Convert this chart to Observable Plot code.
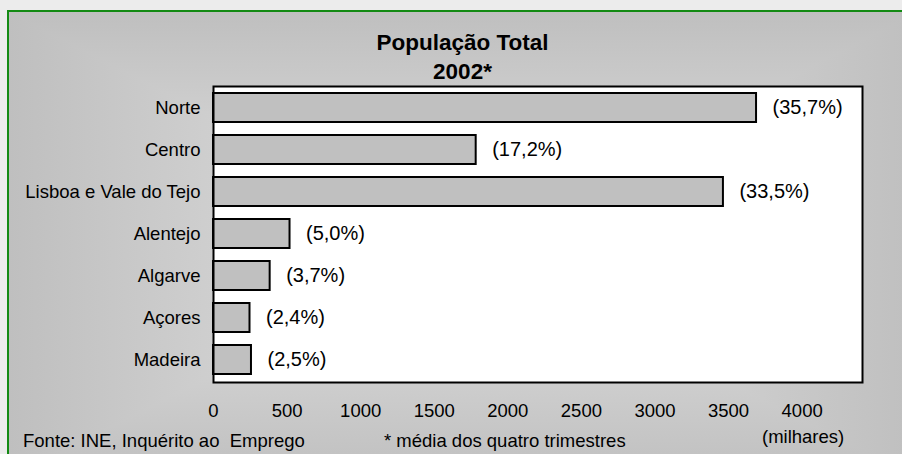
<!DOCTYPE html>
<html><head><meta charset="utf-8">
<script src="https://cdn.jsdelivr.net/npm/d3@7"></script>
<script src="https://cdn.jsdelivr.net/npm/@observablehq/plot@0.6"></script>
<style>
html,body{margin:0;padding:0;background:#ececec;}
#wrap{position:relative;width:902px;height:454px;overflow:hidden;font-family:"Liberation Sans",Arial,sans-serif;}
#panel{position:absolute;left:7px;top:10px;width:911px;height:470px;border-top:2px solid #138a13;border-left:2px solid #138a13;box-sizing:border-box;
background:linear-gradient(to right,#bfbfbf 0%,#e2e2e2 50%,#bfbfbf 100%),linear-gradient(to bottom,#bfbfbf 0%,#e2e2e2 50%,#bfbfbf 100%);background-blend-mode:darken;}
#chart{position:absolute;left:0;top:0;}
.t{position:absolute;white-space:pre;color:#000;line-height:18px;font-size:18.5px;}
.title{position:absolute;left:262px;width:401px;text-align:center;font-weight:bold;font-size:22.5px;line-height:29px;color:#000;}
</style></head>
<body>
<div id="wrap">
  <div id="panel"></div>
  <div id="chart"></div>
  <div class="title" id="title" style="top:28px"></div>
  <div class="t" id="src" style="left:23px;top:432px"></div>
  <div class="t" id="note" style="left:384px;top:432px"></div>
  <div class="t" id="unit" style="left:762px;top:428px"></div>
</div>
<script>
const titleLines = ["População Total", "2002*"];
const sourceText = "Fonte: INE, Inquérito ao  Emprego";
const noteText = "* média dos quatro trimestres";
const unitText = "(milhares)";
const regions = ["Norte", "Centro", "Lisboa e Vale do Tejo", "Alentejo", "Algarve", "Açores", "Madeira"];
const population = [3690, 1785, 3465, 520, 385, 248, 258];
const shares = ["(35,7%)", "(17,2%)", "(33,5%)", "(5,0%)", "(3,7%)", "(2,4%)", "(2,5%)"];
const xTicks = [0, 500, 1000, 1500, 2000, 2500, 3000, 3500, 4000];

document.getElementById("title").innerHTML = titleLines.join("<br>");
document.getElementById("src").textContent = sourceText;
document.getElementById("note").textContent = noteText;
document.getElementById("unit").textContent = unitText;

const data = regions.map((r, i) => ({region: r, value: population[i], label: shares[i]}));

const chart = Plot.plot({
  width: 902, height: 454,
  marginLeft: 213, marginRight: 40, marginTop: 86, marginBottom: 72,
  style: {background: "transparent", fontFamily: "'Liberation Sans', Arial, sans-serif", fontSize: "18.5px", color: "#000", overflow: "visible"},
  x: {domain: [0, 4410], ticks: xTicks, tickSize: 0, tickPadding: 21, tickFormat: d => String(d), label: null},
  y: {domain: regions, paddingInner: 0.3, paddingOuter: 0.15, tickSize: 0, tickPadding: 13, label: null},
  marks: [
    Plot.frame({fill: "white"}),
    Plot.barX(data, {y: "region", x: "value", fill: "#c0c0c0", stroke: "#000", strokeWidth: 2}),
    Plot.text(data, {y: "region", x: "value", text: "label", dx: 16, textAnchor: "start", fontSize: 20, fill: "#000"}),
    Plot.frame({stroke: "#000", strokeWidth: 2})
  ]
});
document.getElementById("chart").appendChild(chart);
</script>
</body></html>
